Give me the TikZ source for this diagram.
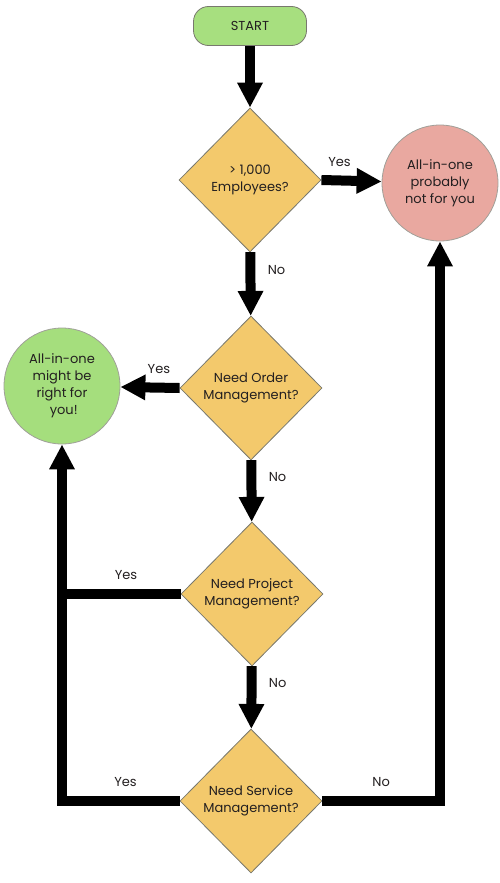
\documentclass[tikz,border=0pt]{standalone}
\usepackage{fontspec}
\setmainfont{Poppins}
\usetikzlibrary{shapes.geometric,arrows.meta,positioning}

\definecolor{startgreen}{RGB}{167,223,127}
\definecolor{okgreen}{RGB}{165,222,125}
\definecolor{nored}{RGB}{233,168,160}
\definecolor{askfill}{RGB}{243,201,108}
\definecolor{edgegray}{RGB}{120,120,110}
\definecolor{inkgray}{RGB}{35,31,32}

\tikzset{
  every node/.style={text=inkgray, font=\fontsize{13}{17}\selectfont},
  startbox/.style={rectangle, rounded corners=15pt, draw=edgegray, fill=startgreen,
    minimum width=113pt, minimum height=39pt, line width=0.8pt},
  question/.style={diamond, draw=edgegray, fill=askfill, line width=0.8pt,
    minimum width=142pt, minimum height=144pt, inner sep=0pt, align=center},
  outcome/.style={circle, draw=edgegray!70, line width=0.8pt, minimum size=116pt,
    inner sep=0pt, align=center},
  flow/.style={line width=10pt, -{Triangle[width=24pt,length=25pt]}},
  feed/.style={line width=10pt},
}

\begin{document}
\begin{tikzpicture}[x=1pt,y=-1pt]
    \useasboundingbox (0,0) rectangle (500,883);
    % Start and questions
    \node[startbox] (start) at (250,26) {START};
    \node[question] (staff) at (250,180) {> 1,000\\Employees?};
    \node[question] (order) at (251,388) {Need Order\\Management?};
    \node[question] (project) at (252,594) {Need Project\\Management?};
    \node[question] (service) at (251,801) {Need Service\\Management?};
    % Outcomes
    \node[outcome, fill=nored] (notfit) at (440,183) {All-in-one\\probably\\not for you};
    \node[outcome, fill=okgreen] (fit) at (62,386) {All-in-one\\might be\\right for\\\ you!};
    % Main line
    \draw[flow] (start) -- (staff);
    \draw[flow] (staff) -- (order) node[pos=0.28, right=9pt] {No};
    \draw[flow] (order) -- (project) node[pos=0.28, right=9pt] {No};
    \draw[flow] (project) -- (service) node[pos=0.27, right=9pt] {No};
    % Yes branches
    \draw[flow] (staff.east) -- (notfit) node[pos=0.3, above=6pt] {Yes};
    \draw[flow] (order.west) -- (fit) node[pos=0.35, above=6pt] {Yes};
    \draw[feed] (project.west) -- (project.west -| fit.south) node[pos=0.46, above=6pt] {Yes};
    \draw[flow, line join=miter] (service.west) -| (fit.south) node[pos=0.23, above=6pt] {Yes};
    % No from last question
    \draw[flow, line join=miter] (service.east) -| (notfit.south) node[pos=0.25, above=6pt] {No};
\end{tikzpicture}
\end{document}
